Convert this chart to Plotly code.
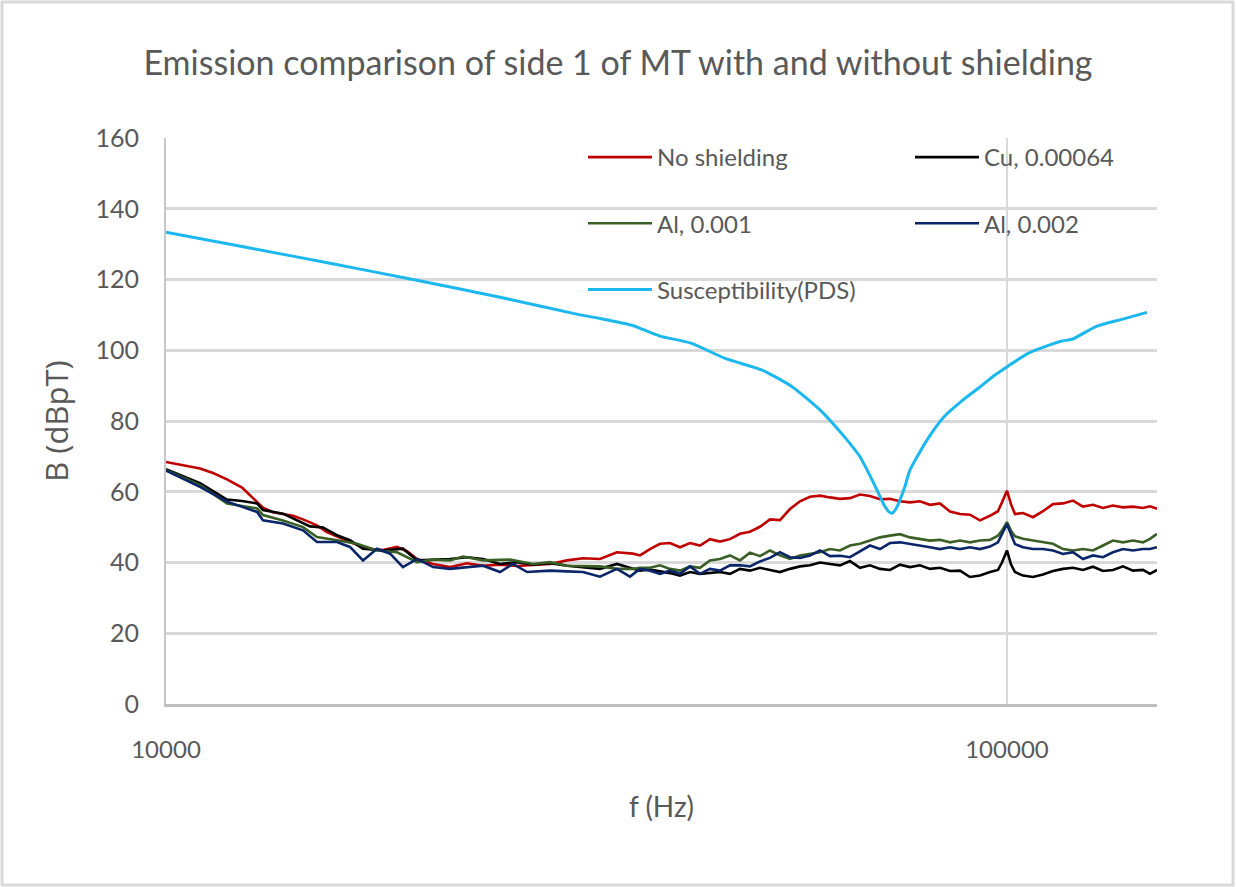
import math
import plotly.graph_objects as go

# Magnetic field emission of side 1 of MT, B in dBpT against frequency f in Hz.
# Below ~36 kHz every configuration has its own sample frequencies; above that
# all four measurements share one frequency list.
f_none_low = [10000, 10476, 10975, 11375, 11817, 12315, 12834, 13042, 13404, 13776, 14158, 14552,
              15118, 15537, 15970, 16547, 17149, 17624, 18115, 18826, 19348, 19885, 20775, 21765,
              22803, 23822, 24957, 26148, 27313, 28617, 29982, 31321, 32810, 34374, 35914]
b_none_low = [68.4, 67.6, 66.6, 65.3, 63.5, 61.2, 57.0, 55.5, 54.2, 53.6, 53.2, 52.2,
              50.5, 48.6, 47.3, 45.8, 44.4, 43.8, 43.5, 44.4, 43.2, 41.0, 39.6, 38.7,
              39.8, 39.1, 39.4, 39.0, 39.3, 39.6, 40.6, 41.2, 41.0, 42.9, 42.5]

f_cu_low = [10000, 10975, 11817, 12315, 12834, 13042, 13776, 14310, 14834, 15368, 15970, 16547,
            17149, 18115, 19133, 19885, 20775, 21765, 22803, 23822, 24957, 26148, 27313, 28617,
            29982, 31321, 32810, 34374, 35914]
b_cu_low = [66.4, 62.4, 57.8, 57.4, 56.7, 54.8, 53.8, 51.9, 50.2, 49.9, 47.7, 46.3,
            43.9, 43.4, 43.9, 40.6, 40.8, 41.0, 41.5, 41.0, 39.6, 40.1, 39.4, 39.8,
            39.1, 38.7, 38.2, 39.6, 38.2]

f_al1_low = [10000, 10975, 11817, 12834, 13042, 13776, 14552, 15118, 15970, 16870, 17820, 18826,
             19885, 20775, 21765, 22550, 23822, 25650, 27313, 28617, 29982, 31321, 32810, 34374,
             35914]
b_al1_low = [66.2, 61.9, 56.7, 55.3, 53.4, 51.9, 50.0, 47.2, 46.3, 45.3, 43.4, 42.9,
             40.1, 40.8, 40.6, 41.7, 40.6, 40.8, 39.6, 40.1, 39.1, 39.1, 38.9, 38.2,
             38.2]

f_al2_low = [10000, 10975, 11817, 12834, 13042, 13776, 14552, 15118, 15970, 16547, 17149, 17820,
             18470, 19133, 19885, 20775, 21765, 22803, 23822, 24957, 25860, 26880, 28617, 29982,
             31321, 32810, 34374, 35620]
b_al2_low = [66.0, 61.4, 57.2, 54.3, 51.9, 51.0, 49.1, 45.8, 45.8, 44.4, 40.6, 43.9,
             42.5, 38.7, 41.0, 38.7, 38.2, 38.7, 39.1, 37.3, 39.6, 37.3, 37.7, 37.5,
             37.3, 36.0, 38.2, 36.0]

f_high = [36611, 37627, 38672, 39745, 40849, 41982, 43148, 44345, 45576, 46841, 48142, 49478,
          50851, 52263, 53714, 55205, 56737, 58312, 59930, 61594, 63304, 65061, 66867, 68723,
          70631, 72591, 74606, 76677, 78806, 80993, 83241, 85552, 87927, 90367, 92876, 95454,
          97567, 98642, 100000, 101101, 102215, 104478, 107378, 110359, 113422, 116571, 119806,
          123132, 126550, 130063, 133673, 137383, 141197, 145116, 147924, 150787]
b_none_high = [42.0, 43.8, 45.3, 45.5, 44.3, 45.5, 44.8, 46.6, 45.9, 46.6, 48.1, 48.7,
               50.1, 52.2, 52.0, 55.1, 57.3, 58.6, 58.9, 58.4, 58.0, 58.2, 59.2, 58.8,
               57.9, 58.0, 57.3, 57.0, 57.3, 56.3, 56.7, 54.4, 53.7, 53.5, 51.9, 53.2,
               54.5, 57.0, 60.3, 56.5, 53.7, 54.0, 52.8, 54.5, 56.5, 56.7, 57.5,
               55.8, 56.3, 55.4, 56.1, 55.6, 55.8, 55.4, 55.9, 55.2]
b_cu_high = [37.7, 38.0, 37.6, 37.0, 36.3, 37.3, 36.8, 37.0, 37.3, 36.8, 38.2, 37.7,
             38.5, 37.9, 37.3, 38.2, 38.9, 39.2, 40.0, 39.6, 39.2, 40.4, 38.5, 39.2,
             38.2, 37.9, 39.4, 38.7, 39.2, 38.2, 38.5, 37.6, 37.7, 35.9, 36.3, 37.3,
             37.9, 40.0, 43.4, 39.5, 37.3, 36.3, 35.9, 36.6, 37.6, 38.2, 38.5,
             37.9, 38.8, 37.6, 37.9, 38.9, 37.7, 37.9, 36.8, 37.9]
b_al1_high = [38.5, 38.5, 39.2, 38.2, 37.7, 38.9, 38.5, 40.6, 41.0, 42.0, 40.6, 42.8,
              41.8, 43.4, 42.0, 41.0, 42.0, 42.4, 42.9, 43.8, 43.4, 44.8, 45.3, 46.2,
              47.1, 47.6, 48.0, 47.1, 46.7, 46.2, 46.4, 45.7, 46.2, 45.7, 46.2, 46.4,
              47.6, 49.0, 51.4, 49.0, 47.4, 46.7, 46.2, 45.7, 45.3, 43.8, 43.4,
              43.8, 43.4, 44.8, 46.2, 45.7, 46.2, 45.7, 46.7, 48.1]
b_al2_high = [38.2, 37.7, 36.8, 37.7, 36.8, 38.9, 36.8, 38.2, 37.7, 39.2, 39.2, 38.9,
              40.3, 41.3, 42.9, 41.5, 41.3, 42.0, 43.4, 41.8, 41.9, 41.5, 43.2, 44.8,
              43.8, 45.5, 45.7, 45.3, 44.8, 44.3, 43.8, 44.3, 43.8, 44.3, 43.8, 44.5,
              45.7, 48.0, 50.9, 48.0, 45.2, 44.3, 43.8, 43.8, 43.4, 42.4, 42.9,
              41.0, 42.0, 41.5, 42.9, 43.8, 43.4, 43.8, 43.8, 44.3]

# Susceptibility limit of the PDS
f_pds = [10000, 12585, 15668, 19665, 24957, 31080, 32810, 35914, 36610, 38671, 42100, 46220,
         51140, 55520, 60260, 63830, 66870, 68740, 70050, 71400, 72400, 73000, 73800, 74610,
         75620, 76670, 80330, 84170, 88170, 92370, 96770, 100280, 105930, 110960, 116250,
         119470, 127600, 136260, 146710]
b_pds = [133.4, 128.9, 124.6, 120.0, 115.0, 110.0, 109.0, 107.0, 106.2, 104.0, 102.0, 97.7,
         94.4, 89.7, 82.6, 76.0, 69.9, 64.5, 60.5, 56.3, 54.3, 53.9, 55.2, 57.7,
         61.5, 66.1, 74.6, 81.2, 85.5, 89.2, 93.0, 95.5, 99.1, 101.0, 102.6,
         103.1, 106.7, 108.6, 110.7]

x_ticks = [10000, 100000]
x_tick_text = ["10000", "100000"]
y_ticks = [0, 20, 40, 60, 80, 100, 120, 140, 160]

GREY = "#595959"
FONT = "Lato"

series = [
    ("No shielding", f_none_low + f_high, b_none_low + b_none_high, "#C00000", 2.6, "legend", 1),
    ("Cu, 0.00064", f_cu_low + f_high, b_cu_low + b_cu_high, "#000000", 2.6, "legend2", 1),
    ("Al, 0.001", f_al1_low + f_high, b_al1_low + b_al1_high, "#3A5F25", 2.6, "legend", 2),
    ("Al, 0.002", f_al2_low + f_high, b_al2_low + b_al2_high, "#0A2668", 2.6, "legend2", 2),
    ("Susceptibility(PDS)", f_pds, b_pds, "#1AB8EE", 3, "legend", 3),
]

fig = go.Figure()
for name, fx, by, color, width, leg, rank in series:
    fig.add_trace(go.Scatter(
        x=fx, y=by, name=name, mode="lines",
        line=dict(color=color, width=width,
                  shape="spline" if "PDS" in name else "linear", smoothing=0.6),
        legend=leg, legendgroup=name, legendrank=rank,
    ))

L, R, T, B = 166, 79, 138, 183
W, H = 1236, 887
pw, ph = W - L - R, H - T - B

legend_style = dict(
    xanchor="left", yanchor="top", y=1.0 + 3 / ph,
    bgcolor="rgba(0,0,0,0)", borderwidth=0,
    font=dict(family=FONT, size=24, color=GREY),
    tracegroupgap=32, itemwidth=64, traceorder="grouped",
)

fig.update_layout(
    width=W, height=H,
    margin=dict(l=L, r=R, t=T, b=B),
    paper_bgcolor="white", plot_bgcolor="white",
    title=dict(text="Emission comparison of side 1 of MT with and without shielding",
               x=0.5, xref="container", xanchor="center",
               y=1 - 63 / H, yref="container", yanchor="middle",
               font=dict(family=FONT, size=34, color=GREY)),
    xaxis=dict(type="log", range=[4, math.log10(150800)],
               tickvals=x_ticks, ticktext=x_tick_text,
               showgrid=True, gridcolor="#D9D9D9", gridwidth=2,
               showline=True, linecolor="#BFBFBF", linewidth=3,
               ticks="", ticklabelstandoff=22,
               tickfont=dict(family=FONT, size=24, color=GREY),
               title=dict(text="f (Hz)", standoff=36,
                          font=dict(family=FONT, size=28, color=GREY)),
               zeroline=False),
    yaxis=dict(range=[0, 160], tickvals=y_ticks,
               showgrid=True, gridcolor="#D9D9D9", gridwidth=3,
               showline=True, linecolor="#C8C8C8", linewidth=2,
               ticks="", ticklabelstandoff=20,
               tickfont=dict(family=FONT, size=25, color=GREY),
               title=dict(text="B (dBpT)", standoff=18,
                          font=dict(family="Open Sans", size=31, color=GREY)),
               zeroline=False),
    legend=dict(x=(583 - L) / pw, **legend_style),
    legend2=dict(x=(910 - L) / pw, **legend_style),
    shapes=[dict(type="rect", xref="paper", yref="paper",
                 x0=(2 - L) / pw, x1=(1233 - L) / pw,
                 y0=(H - B - 885) / ph, y1=(H - B - 2) / ph,
                 line=dict(color="#D9D9D9", width=3), layer="below")],
)

fig.write_html("out.html")
